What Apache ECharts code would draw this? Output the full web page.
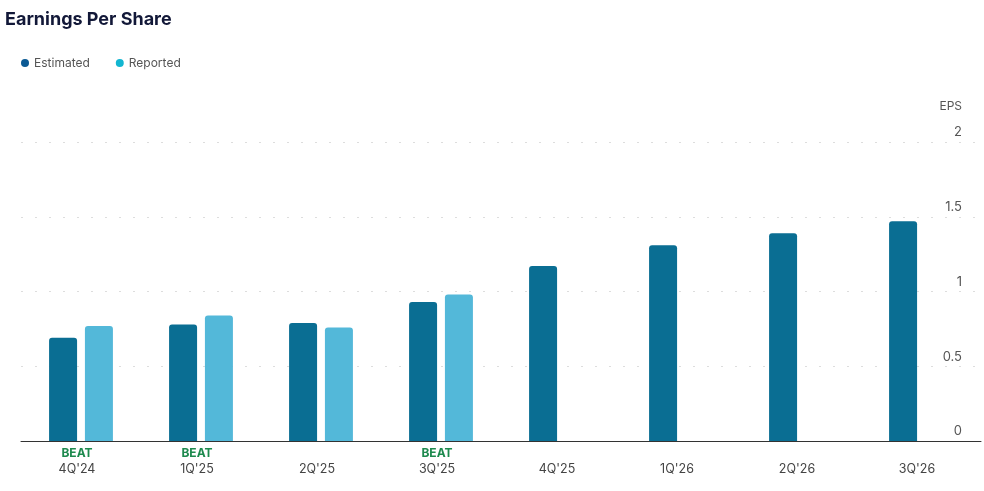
<!DOCTYPE html>
<html>
<head>
<meta charset="UTF-8">
<title>Earnings Per Share</title>
<script type="text/javascript" src="https://cdn.jsdelivr.net/npm/echarts@6/dist/echarts.min.js"></script>
<style>
	body{margin:0;background:#fff;}
</style>
</head>
<body>
	<div id="show" style="width:984px;height:491px"></div>
	<script type="text/javascript">
		var quarters=["4Q'24","1Q'25","2Q'25","3Q'25","4Q'25","1Q'26","2Q'26","3Q'26"];
		var estimated=[0.69,0.78,0.79,0.93,1.17,1.31,1.39,1.47];
		var reported=[0.77,0.84,0.76,0.98,null,null,null,null];
		var results=['BEAT','BEAT','','BEAT','','','',''];
		var yTicks=[0,0.5,1,1.5,2];

		var myCharts=echarts.init(document.getElementById('show'));
		myCharts.setOption({
			textStyle:{fontFamily:'Inter'},
			title:{
				text:'Earnings Per Share',
				left:0,
				top:6,
				textStyle:{fontSize:18,fontWeight:'bold',color:'#121838',fontFamily:'Inter'}
			},
			legend:{
				left:16,
				top:52,
				icon:'circle',
				itemWidth:8,
				itemHeight:8,
				itemGap:26,
				textStyle:{fontSize:12,color:'#555'},
				data:[
					{name:'Estimated',itemStyle:{color:'#0b5a94'}},
					{name:'Reported',itemStyle:{color:'#13b6d1'}}
				]
			},
			grid:{left:21,right:3,top:142,bottom:50},
			xAxis:{
				type:'category',
				data:quarters,
				axisLine:{lineStyle:{color:'#333',width:1}},
				axisTick:{show:false},
				axisLabel:{
					margin:4,
					formatter:function(v,i){
						return (results[i]?'{beat|'+results[i]+'}':'{beat| }')+'\n{cat|'+v+'}';
					},
					rich:{
						beat:{color:'#1d8a4e',fontWeight:'bold',fontSize:12,lineHeight:16,padding:[0,8,0,0]},
						cat:{color:'#444',fontSize:12.5,lineHeight:16,padding:[0,8,0,0]}
					}
				}
			},
			yAxis:{
				type:'value',
				position:'right',
				min:yTicks[0],
				max:yTicks[yTicks.length-1],
				interval:0.5,
				name:'EPS',
				nameGap:30,
				nameTextStyle:{color:'#555',fontSize:12,align:'right',padding:[0,19,0,0]},
				axisLine:{show:false},
				axisTick:{show:false},
				axisLabel:{inside:true,margin:19,color:'#555',fontSize:13,verticalAlign:'bottom',padding:[0,0,3,0]},
				splitLine:{lineStyle:{color:'#ddd',type:[2,12]}}
			},
			series:[{
				name:'Estimated',
				type:'bar',
				data:estimated,
				barWidth:28,
				barGap:'28%',
				itemStyle:{color:'#0a6e93',borderRadius:[3,3,0,0]}
			},{
				name:'Reported',
				type:'bar',
				data:reported,
				barWidth:28,
				itemStyle:{color:'#53b8d9',borderRadius:[3,3,0,0]}
			}]
		});
	</script>
</body>
</html>
